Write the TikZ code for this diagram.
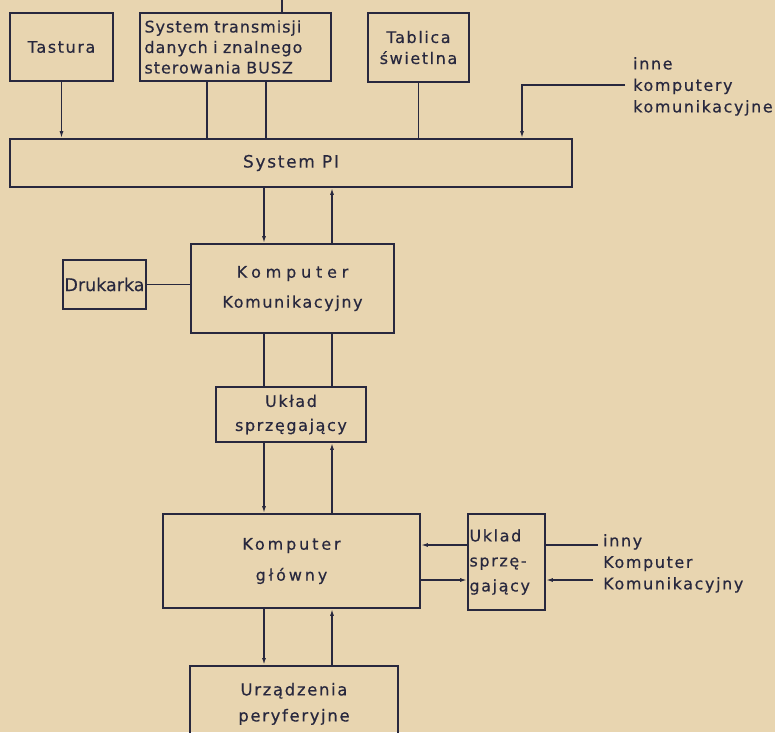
\documentclass[tikz,border=0pt]{standalone}
\usepackage{fontspec}
\setmainfont{DejaVu Sans}[LetterSpace=10,FakeBold=0.4]
\newfontfamily\widefont{DejaVu Sans}[LetterSpace=30,FakeBold=0.4]
\newfontfamily\midfont{DejaVu Sans}[LetterSpace=18,FakeBold=0.4]
\newfontfamily\buszfont{DejaVu Sans}[LetterSpace=6,WordSpace=2,FakeBold=0.4]
\usetikzlibrary{arrows.meta}
\definecolor{paper}{RGB}{232,213,176}
\definecolor{ink}{RGB}{40,40,62}
\tikzset{
  blk/.style={draw=ink,line width=1.7pt,inner sep=0pt,align=center,text=ink,
              font=\fontsize{16}{21}\selectfont},
  lbl/.style={inner sep=0pt,align=left,text=ink,font=\fontsize{16}{21.5}\selectfont},
  wire/.style={draw=ink,line width=1.5pt},
  arr/.style={wire,-{Latex[length=7pt,width=4pt]}},
}
\begin{document}
\begin{tikzpicture}[x=1pt,y=-1pt]
    \fill[paper] (0,0) rectangle (775,732);
    \useasboundingbox (0,0) rectangle (775,732);

    %%%% Top row %%%%%%%%%%%%%%%%%%%%%%%%%%%%%%%%%%%%%%%%%%%%%%%%%%%%%%%%%
    \node[blk,minimum width=103,minimum height=68] (tastura) at (61.5,47) {Tastura};
    \node[blk,minimum width=191,minimum height=68,text width=182,align=left,
          font=\buszfont\fontsize{16}{20.5}\selectfont] (busz) at (235.5,47)
         {System transmisji\\danych i znalnego\\sterowania BUSZ};
    \node[blk,minimum width=101,minimum height=69] (tablica) at (418.5,47.5) {Tablica\\świetlna};
    \node[lbl,anchor=north west] (inne) at (633,57) {inne\\komputery\\komunikacyjne};

    %%%% System PI %%%%%%%%%%%%%%%%%%%%%%%%%%%%%%%%%%%%%%%%%%%%%%%%%%%%%%%%
    \node[blk,minimum width=562,minimum height=48,font=\fontsize{17}{21}\selectfont]
         (pi) at (291,163) {System PI};

    \coordinate (top) at (282,0);
    \coordinate (b1) at (207,0);
    \coordinate (b2) at (266,0);
    \coordinate (ic) at (522,85);
    \coordinate (inend) at (625,85);
    \draw[wire] (busz.north -| top) -- (top);
    \draw[arr] (tastura.south) -- (tastura.south |- pi.north);
    \draw[wire] (busz.south -| b1) -- (pi.north -| b1);
    \draw[wire] (busz.south -| b2) -- (pi.north -| b2);
    \draw[wire] (tablica.south) -- (tablica.south |- pi.north);
    \draw[arr] (inend) -| (pi.north -| ic);

    %%%% Komputer komunikacyjny %%%%%%%%%%%%%%%%%%%%%%%%%%%%%%%%%%%%%%%%%%
    \coordinate (lx) at (264,0);
    \coordinate (rx) at (332,0);
    \node[blk,minimum width=203,minimum height=89] (kk) at (292.5,288.5)
         {{\widefont Komputer}\\[9pt]Komunikacyjny};
    \node[blk,minimum width=83,minimum height=49,
          font=\fontsize{17.5}{21}\selectfont\addfontfeature{LetterSpace=0}]
         (drukarka) at (104.5,284.5) {Drukarka};
    \node[blk,minimum width=150,minimum height=55,font=\fontsize{16}{24}\selectfont]
         (uklad) at (291,414.5) {Układ\\sprzęgający};

    \draw[arr] (pi.south -| lx) -- (kk.north -| lx);
    \draw[arr] (kk.north -| rx) -- (pi.south -| rx);
    \draw[wire] (kk.west |- drukarka.east) -- (drukarka.east);
    \draw[wire] (kk.south -| lx) -- (uklad.north -| lx);
    \draw[wire] (kk.south -| rx) -- (uklad.north -| rx);

    %%%% Komputer glowny %%%%%%%%%%%%%%%%%%%%%%%%%%%%%%%%%%%%%%%%%%%%%%%%%
    \node[blk,minimum width=257,minimum height=94] (kg) at (291.5,561)
         {{\midfont Komputer}\\[10pt]{\midfont główny}};
    \node[blk,minimum width=77,minimum height=96,text width=74,align=left,
          font=\fontsize{16}{25}\selectfont] (uklad2) at (506.5,562)
         {Uklad\\sprzę-\\gający};
    \node[lbl,anchor=north west] (inny) at (603,534) {inny\\Komputer\\Komunikacyjny};
    \node[blk,anchor=north,minimum width=208,minimum height=76,
          font=\fontsize{16.5}{26}\selectfont] (urz) at (294,665)
         {Urządzenia\\peryferyjne};

    \coordinate (ya) at (0,545);
    \coordinate (yb) at (0,580);
    \coordinate (o1) at (598,545);
    \coordinate (o2) at (593,580);
    \draw[arr] (uklad.south -| lx) -- (kg.north -| lx);
    \draw[arr] (kg.north -| rx) -- (uklad.south -| rx);
    \draw[arr] (uklad2.west |- ya) -- (kg.east |- ya);
    \draw[arr] (kg.east |- yb) -- (uklad2.west |- yb);
    \draw[wire] (uklad2.east |- ya) -- (o1);
    \draw[arr] (o2) -- (uklad2.east |- yb);
    \draw[arr] (kg.south -| lx) -- (urz.north -| lx);
    \draw[arr] (urz.north -| rx) -- (kg.south -| rx);
\end{tikzpicture}
\end{document}
